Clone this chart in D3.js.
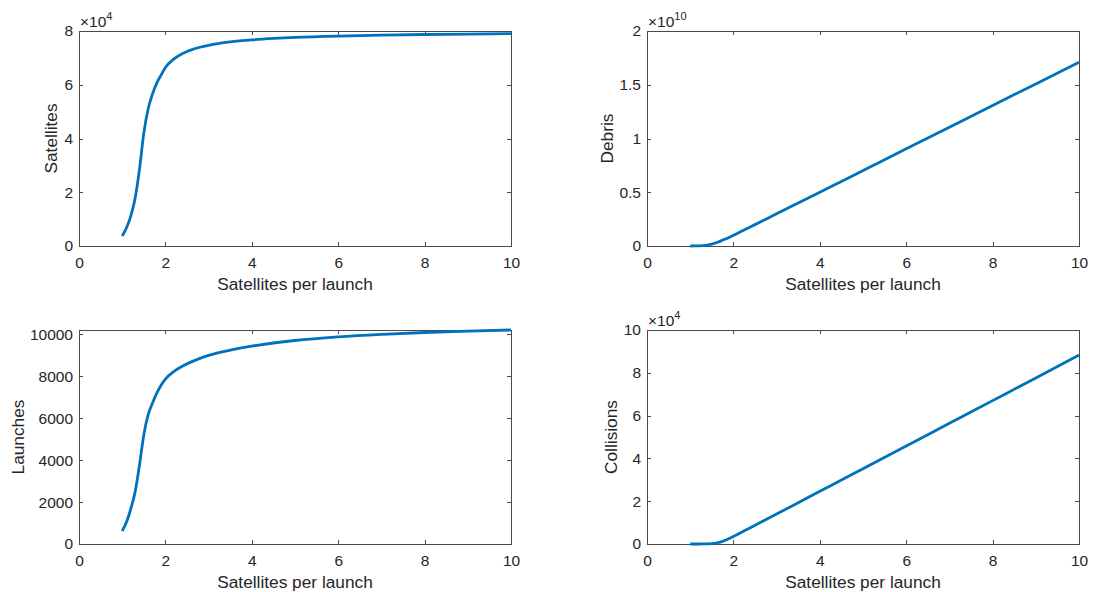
<!DOCTYPE html>
<html>
<head>
<meta charset="utf-8">
<script src="https://cdn.jsdelivr.net/npm/d3@7"></script>
<style>
    body { margin: 0; background: #fff; }
    text { font-family: "Liberation Sans", Arial, Helvetica, sans-serif; fill: #262626; }
</style>
</head>
<body>
<div id="chart"></div>
<script>
// satellites per launch (x) sampled along the curves
let xVals = [1, 1.1, 1.2, 1.3, 1.4, 1.5, 1.6, 1.7, 1.8, 1.9, 2.0, 2.2, 2.4, 2.6, 2.8, 3.0, 3.5, 4.0, 4.5, 5.0, 6.0, 7.0, 8.0, 9.0, 10];

let satellites = [3700, 6800, 11200, 17900, 28500, 42000, 51000, 56500, 60600, 63600, 66400, 69640, 71630, 72980, 73960, 74690, 75930, 76700, 77230, 77610, 78120, 78460, 78690, 78860, 78990];
let debris = [0, 0.0003e10, 0.0016e10, 0.004e10, 0.009e10, 0.018e10, 0.03e10, 0.045e10, 0.062e10, 0.08e10, 0.099e10, 0.139e10, 0.179e10, 0.219e10, 0.259e10, 0.30e10, 0.40e10, 0.50e10, 0.601e10, 0.702e10, 0.904e10, 1.105e10, 1.307e10, 1.508e10, 1.71e10];
let launches = [619, 1050, 1680, 2490, 3760, 5200, 6150, 6710, 7190, 7570, 7860, 8230, 8480, 8680, 8850, 8990, 9240, 9430, 9580, 9700, 9870, 9990, 10080, 10150, 10200];
let collisions = [0, 3, 9, 26, 69, 178, 426, 904, 1630, 2534, 3530, 5560, 7680, 9800, 11900, 14000, 19300, 24600, 29900, 35200, 45800, 56400, 67000, 77600, 88300];

let xTicks = [0, 2, 4, 6, 8, 10];
let satTicks = [0, 20000, 40000, 60000, 80000];
let debrisTicks = [0, 0.5e10, 1e10, 1.5e10, 2e10];
let launchTicks = [0, 2000, 4000, 6000, 8000, 10000];
let collTicks = [0, 20000, 40000, 60000, 80000, 100000];

let xLabel = "Satellites per launch";

let panels = [
    {values: satellites, yLabel: "Satellites", yMax: 80000, ticks: satTicks, exp: 4, left: 79, top: 31, labelX: -22},
    {values: debris, yLabel: "Debris", yMax: 2e10, ticks: debrisTicks, exp: 10, left: 647, top: 31, labelX: -34},
    {values: launches, yLabel: "Launches", yMax: 10200, ticks: launchTicks, exp: 0, left: 79, top: 330, labelX: -55},
    {values: collisions, yLabel: "Collisions", yMax: 100000, ticks: collTicks, exp: 4, left: 647, top: 330, labelX: -30}
];

let W = 1094, H = 592;
let pw = 432, ph = 215, ph2 = 214;

let svg = d3.select("#chart").append("svg")
    .attr("width", W)
    .attr("height", H);

panels.forEach(function(p) {
    let h = p.top < 100 ? ph : ph2;
    let g = svg.append("g").attr("transform", `translate(${p.left},${p.top})`);

    let x = d3.scaleLinear().domain([0, 10]).range([0, pw]);
    let y = d3.scaleLinear().domain([0, p.yMax]).range([h, 0]);
    let div = Math.pow(10, p.exp);

    // bottom + left with labels, top + right only ticks
    let axes = [
        {a: d3.axisBottom(x).tickValues(xTicks).tickFormat(d => d).tickPadding(11), t: `translate(0,${h})`},
        {a: d3.axisLeft(y).tickValues(p.ticks).tickFormat(d => +(d / div).toFixed(2)).tickPadding(6), t: ""},
        {a: d3.axisTop(x).tickValues(xTicks).tickFormat(""), t: ""},
        {a: d3.axisRight(y).tickValues(p.ticks).tickFormat(""), t: `translate(${pw},0)`}
    ];
    axes.forEach(function(ax) {
        let ag = g.append("g")
            .attr("transform", ax.t)
            .call(ax.a.tickSizeInner(-4).tickSizeOuter(0));
        ag.select(".domain").attr("stroke", "#4a4a4a").attr("shape-rendering", "crispEdges");
        ag.selectAll(".tick line").attr("stroke", "#4a4a4a").attr("shape-rendering", "crispEdges");
        ag.selectAll(".tick text")
            .attr("font-size", 15.5)
            .attr("fill", "#262626");
        ag.attr("font-family", null).attr("font-size", null);
    });

    // x label
    g.append("text")
        .attr("x", pw / 2)
        .attr("y", h + 44)
        .attr("text-anchor", "middle")
        .attr("font-size", 17.3)
        .text(xLabel);

    // y label
    g.append("text")
        .attr("transform", `translate(${p.labelX},${h / 2}) rotate(-90)`)
        .attr("text-anchor", "middle")
        .attr("font-size", 17.3)
        .text(p.yLabel);

    // exponent
    if (p.exp > 0) {
        let e = g.append("text")
            .attr("x", 1)
            .attr("y", -4)
            .attr("font-size", 15.5);
        e.append("tspan").text("\u00d710");
        e.append("tspan").attr("dy", -7).attr("font-size", 11).text(p.exp);
    }

    let line = d3.line()
        .x((d, i) => x(xVals[i]))
        .y(d => y(d))
        .curve(d3.curveMonotoneX);

    g.append("path")
        .datum(p.values)
        .attr("fill", "none")
        .attr("stroke", "#0072BD")
        .attr("stroke-width", 2.8)
        .attr("d", line);
});
</script>
</body>
</html>
